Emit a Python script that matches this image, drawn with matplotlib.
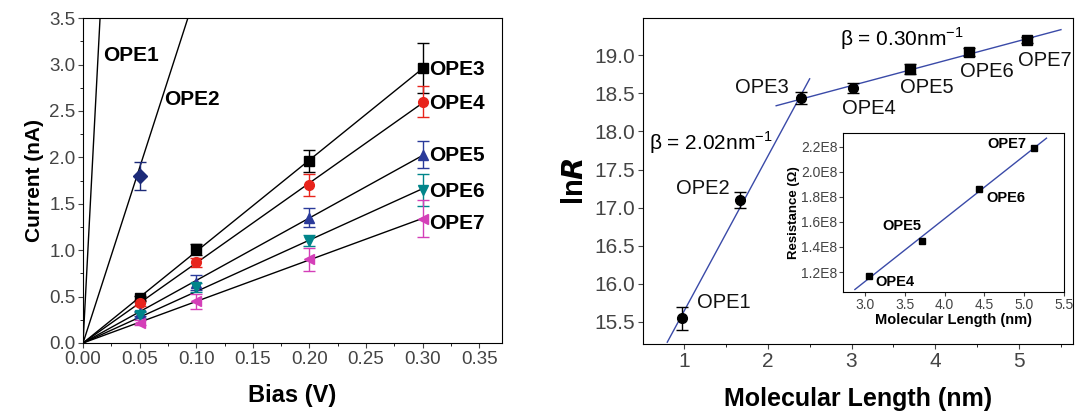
import numpy as np
import matplotlib
matplotlib.use("Agg")
import matplotlib.pyplot as plt
from matplotlib.ticker import MultipleLocator, FuncFormatter

plt.rcParams['font.family'] = ['Liberation Sans', 'DejaVu Sans']

# ---- Panel a: I-V data ----
bias = [0.05, 0.10, 0.20, 0.30]
ope3 = [0.48, 1.01, 1.96, 2.96]
ope3_err = [0.03, 0.06, 0.12, 0.27]
ope4 = [0.43, 0.87, 1.70, 2.60]
ope4_err = [0.03, 0.05, 0.12, 0.17]
ope5 = [0.32, 0.65, 1.35, 2.03]
ope5_err = [0.03, 0.08, 0.10, 0.15]
ope6 = [0.30, 0.60, 1.10, 1.65]
ope6_err = [0.03, 0.05, 0.06, 0.17]
ope7 = [0.22, 0.45, 0.90, 1.34]
ope7_err = [0.03, 0.08, 0.12, 0.20]
ope2_bias = [0.05]
ope2 = [1.80]
ope2_err = [0.15]
ope1_slope = 233.0  # nA/V, only the fit line is visible
ope2_slope = 37.8

# ---- Panel b: ln R vs length ----
length = [0.98, 1.67, 2.40, 3.02, 3.70, 4.40, 5.10]
ln_r = [15.55, 17.10, 18.44, 18.57, 18.82, 19.04, 19.20]
ln_r_err = [0.15, 0.10, 0.08, 0.06, 0.06, 0.05, 0.04]
names = ['OPE1', 'OPE2', 'OPE3', 'OPE4', 'OPE5', 'OPE6', 'OPE7']

# inset: resistance vs length
in_length = [3.05, 3.72, 4.43, 5.12]
in_res = [1.17e8, 1.45e8, 1.86e8, 2.19e8]

fig = plt.figure(figsize=(10.77, 4.16), dpi=100)
ax1 = fig.add_axes([0.0771, 0.1755, 0.389, 0.781])
ax2 = fig.add_axes([0.597, 0.173, 0.399, 0.784])
ax3 = fig.add_axes([0.7827, 0.298, 0.2052, 0.382])

# panel a
series = [
    (ope3, ope3_err, 's', 'black', 'OPE3', 2.95),
    (ope4, ope4_err, 'o', '#e8241c', 'OPE4', 2.58),
    (ope5, ope5_err, '^', '#2a3a9a', 'OPE5', 2.02),
    (ope6, ope6_err, 'v', '#00858a', 'OPE6', 1.63),
    (ope7, ope7_err, '<', '#d43fb8', 'OPE7', 1.29),
]
xfit = np.array([0.0, 0.30])
for y, e, m, c, lab, ty in series:
    x = np.array(bias)
    yy = np.array(y)
    k = np.sum(x * yy) / np.sum(x * x)
    ax1.plot(xfit, k * xfit, color='black', lw=1.0, zorder=2)
    ax1.errorbar(bias, y, yerr=e, fmt=m, color=c, ms=7, capsize=4,
                 elinewidth=1.0, zorder=3)
    ax1.text(0.306, ty, lab, fontsize=15, fontweight='bold', va='center')

xl = np.array([0.0, 0.02])
ax1.plot(xl, ope1_slope * xl, color='black', lw=1.0)
xl2 = np.array([0.0, 0.1])
ax1.plot(xl2, ope2_slope * xl2, color='black', lw=1.0)
ax1.errorbar(ope2_bias, ope2, yerr=ope2_err, fmt='D', color='#1c2a78', ms=7,
             capsize=4, elinewidth=1.0)
ax1.text(0.018, 3.1, 'OPE1', fontsize=15, fontweight='bold', va='center')
ax1.text(0.072, 2.62, 'OPE2', fontsize=15, fontweight='bold', va='center')

ax1.set_xlim(0, 0.37)
ax1.set_ylim(0, 3.5)
ax1.xaxis.set_major_locator(MultipleLocator(0.05))
ax1.xaxis.set_minor_locator(MultipleLocator(0.025))
ax1.yaxis.set_major_locator(MultipleLocator(0.5))
ax1.yaxis.set_minor_locator(MultipleLocator(0.25))
ax1.xaxis.set_major_formatter(FuncFormatter(lambda v, p: f'{v:.2f}'))
ax1.yaxis.set_major_formatter(FuncFormatter(lambda v, p: f'{v:.1f}'))
ax1.tick_params(direction='out', labelsize=13.5, colors='#444444', pad=2)
ax1.set_xlabel('Bias (V)', fontsize=17, fontweight='bold', labelpad=12)
ax1.set_ylabel('Current (nA)', fontsize=15, fontweight='bold', labelpad=4)

# panel b
blue = '#3a4aa8'
p1 = np.polyfit(length[:3], ln_r[:3], 1)
p2 = np.polyfit(length[2:], ln_r[2:], 1)
x1 = np.array([0.8, 2.5])
x2 = np.array([2.1, 5.5])
ax2.plot(x1, np.polyval(p1, x1), color=blue, lw=1.0)
ax2.plot(x2, np.polyval(p2, x2), color=blue, lw=1.0)
for i in range(len(length)):
    m = 'o' if i < 4 else 's'
    ax2.errorbar(length[i], ln_r[i], yerr=ln_r_err[i], fmt=m, color='black',
                 ms=7, capsize=4, elinewidth=1.0)

lab_pos = [(1.16, 15.75, 'left'), (1.55, 17.25, 'right'), (2.25, 18.57, 'right'),
           (2.89, 18.3, 'left'), (3.58, 18.57, 'left'), (4.29, 18.78, 'left'),
           (4.99, 18.93, 'left')]
for n, (tx, ty, ha) in zip(names, lab_pos):
    ax2.text(tx, ty, n, fontsize=14.5, ha=ha, va='center', color='#111111')
ax2.text(2.86, 19.22, r'β = 0.30nm$^{\mathregular{-1}}$', fontsize=15, va='center')
ax2.text(0.58, 17.85, r'β = 2.02nm$^{\mathregular{-1}}$', fontsize=15, va='center')

ax2.set_xlim(0.51, 5.64)
ax2.set_ylim(15.21, 19.49)
ax2.xaxis.set_major_locator(MultipleLocator(1))
ax2.xaxis.set_minor_locator(MultipleLocator(0.5))
ax2.yaxis.set_major_locator(MultipleLocator(0.5))
ax2.yaxis.set_major_formatter(FuncFormatter(lambda v, p: f'{v:.1f}'))
ax2.tick_params(direction='out', labelsize=15, colors='#444444', pad=2)
ax2.set_xlabel('Molecular Length (nm)', fontsize=18, fontweight='bold', labelpad=12)
ax2.set_ylabel(r'ln$\mathbfit{R}$', fontsize=21, fontweight='bold', labelpad=4)

# inset
pi = np.polyfit(in_length, in_res, 1)
xi = np.array([2.87, 5.28])
ax3.plot(xi, np.polyval(pi, xi), color=blue, lw=1.0)
ax3.plot(in_length, in_res, 's', color='black', ms=5)
in_lab = [(5.03, 2.22e8, 'right'), (4.52, 1.79e8, 'left'),
          (3.22, 1.57e8, 'left'), (3.13, 1.12e8, 'left')]
for n, (tx, ty, ha) in zip(['OPE7', 'OPE6', 'OPE5', 'OPE4'], in_lab):
    ax3.text(tx, ty, n, fontsize=10.5, fontweight='bold', ha=ha, va='center')
ax3.set_xlim(2.72, 5.5)
ax3.set_ylim(1.04e8, 2.31e8)
ax3.xaxis.set_major_locator(MultipleLocator(0.5))
ax3.yaxis.set_major_locator(MultipleLocator(0.2e8))
ax3.xaxis.set_major_formatter(FuncFormatter(lambda v, p: f'{v:.1f}'))
ax3.yaxis.set_major_formatter(FuncFormatter(lambda v, p: f'{v / 1e8:.1f}E8'))
ax3.tick_params(direction='out', labelsize=10, colors='#444444', length=3, pad=1)
ax3.set_xlabel('Molecular Length (nm)', fontsize=10.5, fontweight='bold', labelpad=1)
ax3.set_ylabel('Resistance (Ω)', fontsize=9.5, fontweight='bold', labelpad=1)

fig.savefig('out.png', dpi=100)
